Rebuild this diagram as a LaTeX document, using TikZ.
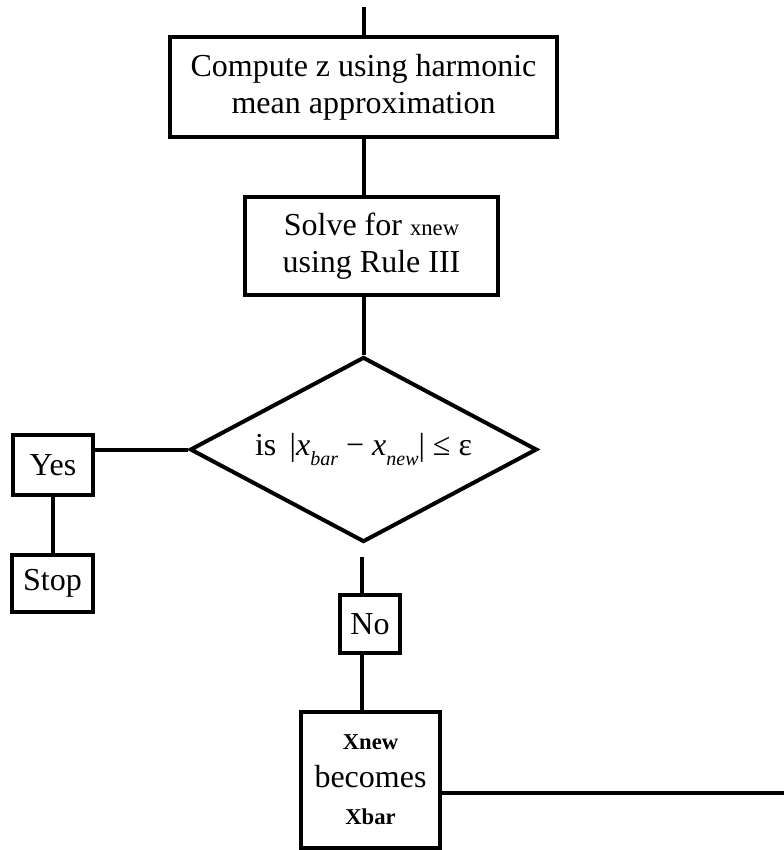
\documentclass[tikz,border=0pt]{standalone}
\usepackage{fontspec}
\setmainfont{Liberation Serif}
\usetikzlibrary{shapes.geometric}
\newcommand{\subtxt}[1]{\raisebox{-0.3em}{\fontsize{15}{15}\selectfont\textit{#1}}}
\newcommand{\smalltxt}[1]{{\fontsize{17}{17}\selectfont #1}}

\begin{document}
\begin{tikzpicture}[x=0.75pt,y=0.75pt,yscale=-1,xscale=1,line width=3pt,
    box/.style={draw, rectangle, inner sep=0pt, align=center, font=\fontsize{24}{28}\selectfont},
    decision/.style={draw, diamond, inner sep=0pt, aspect=1.876, minimum width=260.25pt, minimum height=138.75pt, font=\fontsize{24}{28}\selectfont}]
\useasboundingbox (0,0) rectangle (784,850);
%% boxes
\node [box, minimum width=290.25pt, minimum height=75pt] (compute) at (363.5,87) {Compute z using harmonic\\mean approximation};
\node [box, minimum width=189.75pt, minimum height=73.5pt] (solve) at (371.5,246) {Solve for \smalltxt{xnew}\\using Rule III};
\node [decision] (test) at (363.5,449.5) {is\, |\textit{x}\subtxt{bar} − \textit{x}\subtxt{new}| ≤ ε};
\node [box, minimum width=60pt, minimum height=45pt] (yes) at (53,465) {Yes};
\node [box, minimum width=60.75pt, minimum height=42.75pt] (stop) at (52.5,583.5) {Stop};
\node [box, minimum width=45pt, minimum height=43.5pt] (no) at (370,624) {No};
\node [box, minimum width=104.25pt, minimum height=102pt] (update) at (370.5,780) {\smalltxt{\bfseries Xnew}\\becomes\\\smalltxt{\bfseries Xbar}};
%% free ends
\coordinate (entry) at (363.5,7);
\coordinate (gap) at (362,557);
\coordinate (exit) at (784,793);
%% lines
\draw (entry) -- (compute.north);
\draw (compute.south) -- (compute.south |- solve.north);
\draw (solve.south -| test.north) -- (test.north);
\draw (test.west) -- (yes.east |- test.west);
\draw (yes.south -| stop.north) -- (stop.north);
\draw (gap) -- (gap |- no.north);
\draw (gap |- no.south) -- (gap |- update.north);
\draw (update.east |- exit) -- (exit);
\end{tikzpicture}
\end{document}
